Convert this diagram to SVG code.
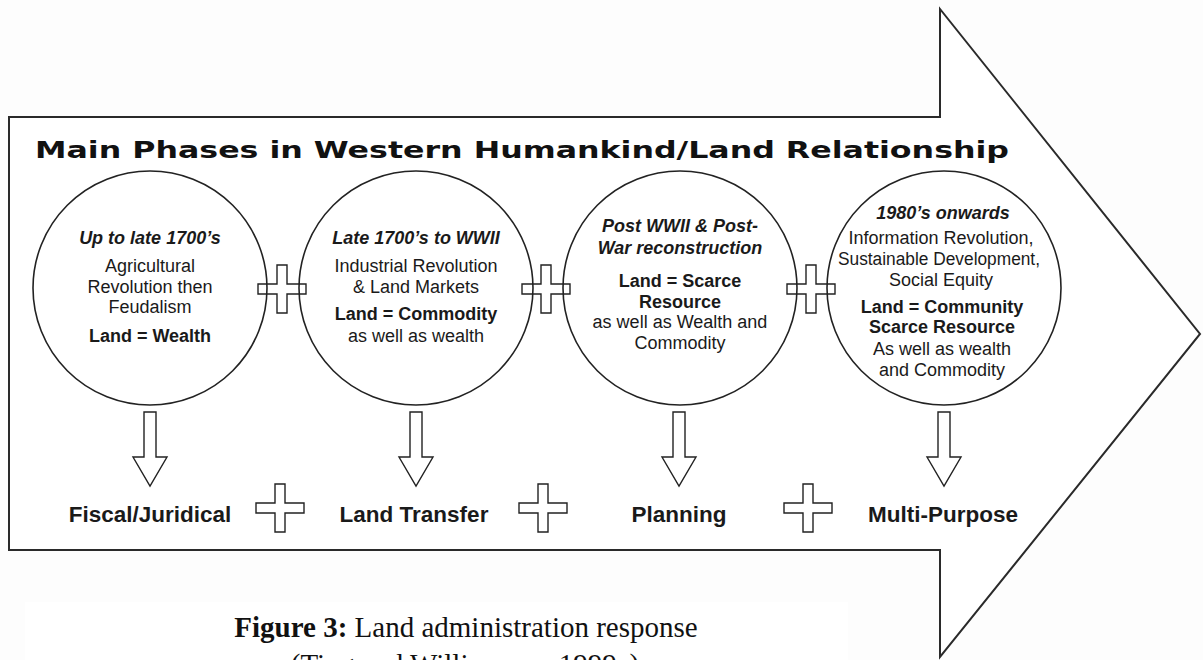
<svg xmlns="http://www.w3.org/2000/svg" width="1203" height="660" viewBox="0 0 1203 660">
<style>
.outline{fill:#fff;stroke:#2a2a2a;stroke-width:2;stroke-linejoin:miter}
.circ{fill:none;stroke:#222;stroke-width:1.6}
.sym{fill:#fff;stroke:#222;stroke-width:1.4;stroke-linejoin:miter}
.t{font-family:"Liberation Sans",Arial,sans-serif;font-size:18px;fill:#1a1a1a;text-anchor:middle}
.b{font-weight:bold}
.bi{font-weight:bold;font-style:italic}
.lab{font-family:"Liberation Sans",Arial,sans-serif;font-size:22.5px;font-weight:bold;fill:#1a1a1a;text-anchor:middle}
.title{font-family:"DejaVu Sans",Verdana,sans-serif;font-size:23px;font-weight:bold;fill:#111}
.cap{font-family:"Liberation Serif","Times New Roman",serif;font-size:29px;fill:#111;text-anchor:middle}
</style>
<defs>
<path id="plus" d="M-5,-24 H5 V-5 H24 V5 H5 V24 H-5 V5 H-24 V-5 H-5 Z"/>
<path id="down" d="M-6,0 H6 V45 H17 L0,74 L-17,45 H-6 Z"/>
</defs>
<rect x="0" y="0" width="1203" height="660" fill="#fdfdfd"/>
<rect x="25" y="602" width="823" height="58" fill="#ffffff"/>
<g id="big-arrow">
<path class="outline" d="M9,117 H940 V9 L1200,334 L940,657 V550 H9 Z"/>
</g>
<g id="title">
<text class="title" x="35" y="158" textLength="974" lengthAdjust="spacingAndGlyphs">Main Phases in Western Humankind/Land Relationship</text>
</g>
<g id="phase1">
<circle class="circ" cx="150" cy="288" r="117"/>
<text class="t bi" x="150" y="244">Up to late 1700’s</text>
<text class="t" x="150" y="272">Agricultural</text>
<text class="t" x="150" y="293">Revolution then</text>
<text class="t" x="150" y="313">Feudalism</text>
<text class="t b" x="150" y="342">Land = Wealth</text>
</g>
<g id="phase2">
<circle class="circ" cx="416" cy="288" r="117"/>
<text class="t bi" x="416" y="244">Late 1700’s to WWII</text>
<text class="t" x="416" y="272">Industrial Revolution</text>
<text class="t" x="416" y="293">&amp; Land Markets</text>
<text class="t b" x="416" y="320">Land = Commodity</text>
<text class="t" x="416" y="342">as well as wealth</text>
</g>
<g id="phase3">
<circle class="circ" cx="680" cy="288" r="117"/>
<text class="t bi" x="680" y="232">Post WWII &amp; Post-</text>
<text class="t bi" x="680" y="254">War reconstruction</text>
<text class="t b" x="680" y="287">Land = Scarce</text>
<text class="t b" x="680" y="308">Resource</text>
<text class="t" x="680" y="328">as well as Wealth and</text>
<text class="t" x="680" y="349">Commodity</text>
</g>
<g id="phase4">
<circle class="circ" cx="944" cy="288" r="117"/>
<text class="t bi" x="943" y="219">1980’s onwards</text>
<text class="t" x="941" y="244">Information Revolution,</text>
<text class="t" x="939" y="265" textLength="202" lengthAdjust="spacingAndGlyphs">Sustainable Development,</text>
<text class="t" x="941" y="286">Social Equity</text>
<text class="t b" x="942" y="313">Land = Community</text>
<text class="t b" x="942" y="333">Scarce Resource</text>
<text class="t" x="942" y="355">As well as wealth</text>
<text class="t" x="942" y="376">and Commodity</text>
</g>
<g id="connectors">
<use href="#plus" class="sym" fill="none" style="fill:none" x="282" y="289"/>
<use href="#plus" class="sym" style="fill:none" x="546" y="289"/>
<use href="#plus" class="sym" style="fill:none" x="811" y="289"/>
<use href="#down" class="sym" x="150" y="412"/>
<use href="#down" class="sym" x="416" y="412"/>
<use href="#down" class="sym" x="679" y="412"/>
<use href="#down" class="sym" x="944" y="412"/>
<use href="#plus" class="sym" x="280" y="508"/>
<use href="#plus" class="sym" x="543" y="508"/>
<use href="#plus" class="sym" x="808" y="508"/>
</g>
<g id="response1"><text class="lab" x="150" y="522">Fiscal/Juridical</text></g>
<g id="response2"><text class="lab" x="414" y="522">Land Transfer</text></g>
<g id="response3"><text class="lab" x="679" y="522">Planning</text></g>
<g id="response4"><text class="lab" x="943" y="522">Multi-Purpose</text></g>
<g id="caption">
<text class="cap" x="466" y="637"><tspan font-weight="bold">Figure 3:</tspan> Land administration response</text>
<text class="cap" x="465" y="674">(Ting and Williamson, 1999c)</text>
</g>
</svg>
